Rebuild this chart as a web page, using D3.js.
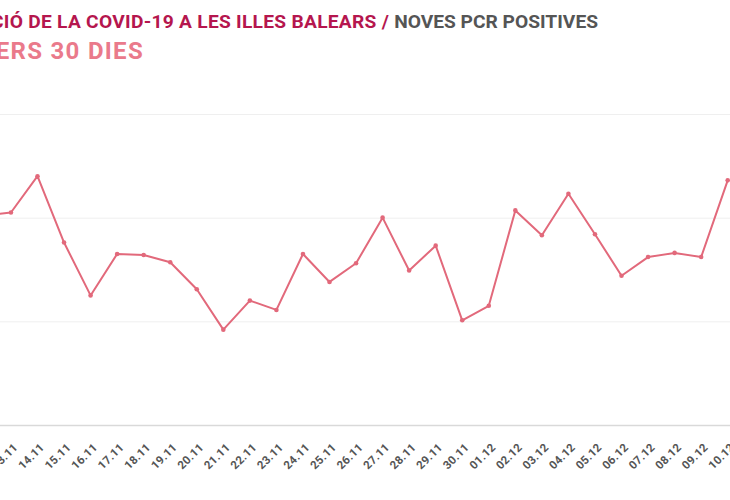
<!DOCTYPE html>
<html>
<head>
<meta charset="utf-8">
<script src="https://cdn.jsdelivr.net/npm/d3@7"></script>
<style>
  html, body { margin: 0; padding: 0; background: #fff; overflow: hidden; }
  svg { display: block; font-family: Roboto, "Noto Sans", sans-serif; }
</style>
</head>
<body>
<div id="container"></div>
<script>
/* CONSTANTS AND GLOBALS */
const width = 730,
  height = 500;

// dates shown on the x axis (12.11 is just off the left edge)
const dates = ["12.11", "13.11", "14.11", "15.11", "16.11", "17.11", "18.11", "19.11",
  "20.11", "21.11", "22.11", "23.11", "24.11", "25.11", "26.11", "27.11", "28.11",
  "29.11", "30.11", "01.12", "02.12", "03.12", "04.12", "05.12", "06.12", "07.12",
  "08.12", "09.12", "10.12"];

// new positive PCR per day
const positives = [202, 205, 240, 176, 125, 165, 164, 157,
  131, 92, 120, 111, 165, 138, 156, 200, 149,
  173, 101, 115, 207, 183, 223, 184, 144, 162,
  166, 162, 236];

const yTicks = [0, 100, 200, 300];

const data = dates.map((d, i) => ({ date: d, value: positives[i] }));

const svg = d3.select("#container")
  .append("svg")
  .attr("width", width)
  .attr("height", height);

// SCALES
const x = d3.scalePoint()
  .domain(dates)
  .range([-15.6, 727.7]);

const y = d3.scaleLinear()
  .domain([0, 300])
  .range([425, 114]);

// GRID
const grid = svg.append("g")
  .attr("class", "grid")
  .call(d3.axisLeft(y).tickValues(yTicks).tickSize(-width).tickFormat(""));
grid.select(".domain").remove();
grid.selectAll("line")
  .attr("stroke", d => d === 0 ? "#d9d9d9" : "#efefef")
  .attr("stroke-width", d => d === 0 ? 1.5 : 1);

// X AXIS LABELS
const xAxis = svg.append("g")
  .attr("transform", "translate(0,425)")
  .call(d3.axisBottom(x).tickSize(0).tickPadding(0));
xAxis.select(".domain").remove();
xAxis.selectAll("text")
  .attr("text-anchor", "end")
  .attr("dy", 0)
  .attr("transform", "translate(7,23) rotate(-45)")
  .attr("fill", "#555")
  .attr("font-size", 11.5)
  .attr("font-weight", 700)
  .attr("letter-spacing", 0.3)
  .attr("font-family", "Roboto, sans-serif");

// LINE
const lineGen = d3.line()
  .x(d => x(d.date))
  .y(d => y(d.value));

svg.append("path")
  .datum(data)
  .attr("fill", "none")
  .attr("stroke", "#e2697b")
  .attr("stroke-width", 2)
  .attr("stroke-linejoin", "round")
  .attr("d", lineGen);

svg.selectAll("circle.dot")
  .data(data)
  .enter()
  .append("circle")
  .attr("class", "dot")
  .attr("cx", d => x(d.date))
  .attr("cy", d => y(d.value))
  .attr("r", 2.3)
  .attr("fill", "#e2697b");

// TITLES
const title = svg.append("text")
  .attr("x", 598)
  .attr("y", 28)
  .attr("text-anchor", "end")
  .attr("font-size", 19.2)
  .attr("font-weight", 700);
title.append("tspan").attr("fill", "#b5164e").attr("letter-spacing", 0.27)
  .text("EVOLUCIÓ DE LA COVID-19 A LES ILLES BALEARS / ");
title.append("tspan").attr("fill", "#555").attr("letter-spacing", 0).text("NOVES PCR POSITIVES");

svg.append("text")
  .attr("x", 144)
  .attr("y", 59)
  .attr("text-anchor", "end")
  .attr("font-size", 24)
  .attr("font-weight", 700)
  .attr("letter-spacing", 1.3)
  .attr("fill", "#ea7a8b")
  .text("ELS DARRERS 30 DIES");
</script>
</body>
</html>
